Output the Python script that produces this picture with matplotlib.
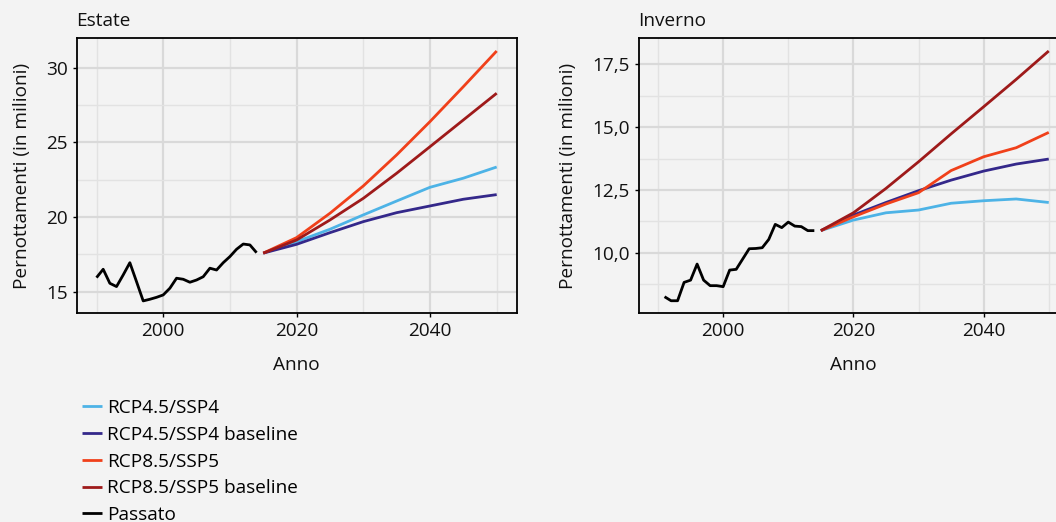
import matplotlib
matplotlib.use("Agg")
import matplotlib.pyplot as plt
from matplotlib.ticker import FixedLocator, FuncFormatter

plt.rcParams['font.family'] = ['Open Sans', 'DejaVu Sans']

# ---- data ----
years_past_summer = list(range(1990, 2015))
past_summer = [15.94, 16.50, 15.56, 15.34, 16.12, 16.94, 15.67, 14.38, 14.49, 14.62,
               14.78, 15.23, 15.90, 15.83, 15.63, 15.78, 16.00, 16.57, 16.45, 16.94,
               17.35, 17.84, 18.19, 18.13, 17.61]
years_past_winter = list(range(1991, 2015))
past_winter = [8.25, 8.09, 8.09, 8.82, 8.91, 9.55, 8.91, 8.69, 8.69, 8.65,
               9.31, 9.34, 9.75, 10.16, 10.17, 10.20, 10.53, 11.13, 11.00, 11.22,
               11.06, 11.04, 10.88, 10.88]

years_proj = [2015, 2020, 2025, 2030, 2035, 2040, 2045, 2050]
summer_rcp45 = [17.58, 18.35, 19.18, 20.14, 21.07, 21.99, 22.60, 23.35]
summer_rcp45_base = [17.58, 18.17, 18.95, 19.69, 20.29, 20.74, 21.19, 21.50]
summer_rcp85 = [17.58, 18.62, 20.25, 22.08, 24.16, 26.39, 28.73, 31.12]
summer_rcp85_base = [17.58, 18.46, 19.80, 21.25, 22.93, 24.71, 26.50, 28.29]

winter_rcp45 = [10.88, 11.30, 11.59, 11.70, 11.97, 12.07, 12.14, 12.00]
winter_rcp45_base = [10.88, 11.50, 12.00, 12.47, 12.89, 13.25, 13.53, 13.73]
winter_rcp85 = [10.88, 11.43, 11.94, 12.39, 13.27, 13.82, 14.18, 14.79]
winter_rcp85_base = [10.88, 11.59, 12.56, 13.62, 14.73, 15.81, 16.90, 18.03]

series_labels = ["RCP4.5/SSP4", "RCP4.5/SSP4 baseline", "RCP8.5/SSP5",
                 "RCP8.5/SSP5 baseline", "Passato"]
series_colors = ["#4db3e6", "#34288a", "#f0401a", "#9e1a1a", "#000000"]

panel_titles = ["Estate", "Inverno"]
x_label = "Anno"
y_label = "Pernottamenti (in milioni)"
x_major = [2000, 2020, 2040]
x_minor = [1990, 2010, 2030, 2050]
summer_y_major = [15, 20, 25, 30]
summer_y_minor = [17.5, 22.5, 27.5]
winter_y_major = [10.0, 12.5, 15.0, 17.5]
winter_y_minor = [8.75, 11.25, 13.75, 16.25]

BG = "#f3f3f3"
TXT = "#111111"
FS = 13.7
W, H = 1056, 522
fig = plt.figure(figsize=(W / 100, H / 100), dpi=100, facecolor=BG)


def px_axes(x0, x1, y0, y1):
    return fig.add_axes([x0 / W, 1 - y1 / H, (x1 - x0) / W, (y1 - y0) / H])


ax1 = px_axes(76.5, 516.7, 38.3, 313.3)
ax2 = px_axes(638.5, 1068.3, 38.3, 313.3)

panels = [
    (ax1, years_past_summer, past_summer,
     [summer_rcp45, summer_rcp45_base, summer_rcp85, summer_rcp85_base],
     summer_y_major, summer_y_minor, (13.55, 31.97),
     lambda v, p: f"{v:.0f}"),
    (ax2, years_past_winter, past_winter,
     [winter_rcp45, winter_rcp45_base, winter_rcp85, winter_rcp85_base],
     winter_y_major, winter_y_minor, (7.59, 18.535),
     lambda v, p: f"{v:.1f}".replace(".", ",")),
]

for i, (ax, yp, vp, projs, ymaj, ymin, ylim, fmt) in enumerate(panels):
    ax.set_facecolor(BG)
    for vals, col, lab in zip(projs, series_colors[:4], series_labels[:4]):
        ax.plot(years_proj, vals, color=col, lw=2.0, label=lab,
                solid_capstyle="butt", zorder=3)
    ax.plot(yp, vp, color=series_colors[4], lw=2.0, label=series_labels[4],
            solid_capstyle="butt", zorder=3)
    ax.set_xlim(1987, 2053)
    ax.set_ylim(*ylim)
    ax.xaxis.set_major_locator(FixedLocator(x_major))
    ax.xaxis.set_minor_locator(FixedLocator(x_minor))
    ax.yaxis.set_major_locator(FixedLocator(ymaj))
    ax.yaxis.set_minor_locator(FixedLocator(ymin))
    ax.yaxis.set_major_formatter(FuncFormatter(fmt))
    ax.grid(which="major", color="#d9d9d9", lw=1.6, zorder=0)
    ax.grid(which="minor", color="#e2e2e2", lw=1.0, zorder=0)
    ax.set_axisbelow(True)
    for s in ax.spines.values():
        s.set_color("black")
        s.set_linewidth(1.3)
    ax.tick_params(which="major", length=3, width=1.0, color="black",
                   labelsize=FS, labelcolor=TXT, pad=3)
    ax.tick_params(which="minor", length=0)
    ax.set_xlabel(x_label, fontsize=FS, color=TXT, labelpad=12)
    ax.set_ylabel(y_label, fontsize=FS, color=TXT, labelpad=11)
    ax.set_title(panel_titles[i], loc="left", fontsize=FS, color=TXT, pad=9,
                 x=0.0)

handles, labels = ax1.get_legend_handles_labels()
fig.legend(handles, labels, loc="upper left", bbox_to_anchor=(82 / W, 1 - 399 / H),
           frameon=False, fontsize=FS, handlelength=1.05, handletextpad=0.25,
           labelspacing=0.46, borderpad=0, borderaxespad=0)

fig.savefig("out.png", dpi=100, facecolor=BG)
